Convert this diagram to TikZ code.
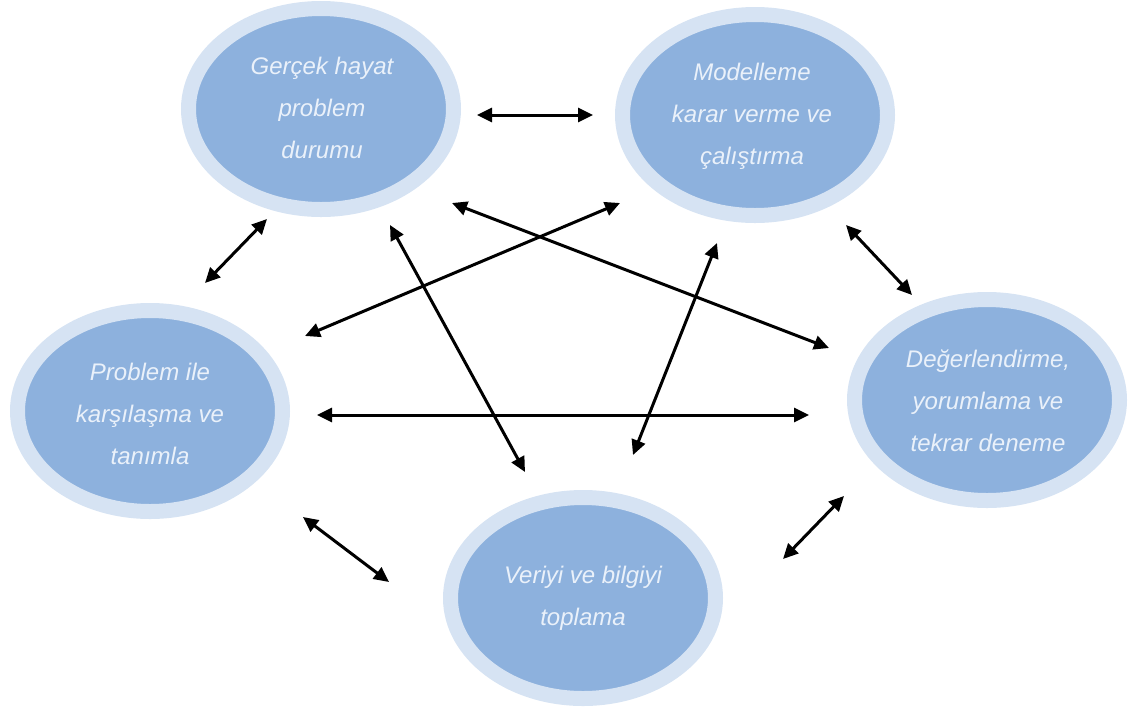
\documentclass[tikz,border=0pt]{standalone}
\usepackage{fontspec}
\setmainfont{Liberation Sans}
\usetikzlibrary{shapes.geometric,arrows.meta}
\definecolor{inner}{HTML}{8DB1DD}
\definecolor{ring}{HTML}{D6E3F3}
\definecolor{txt}{HTML}{EAF1FA}
\tikzset{
  blob/.style={ellipse, inner sep=0pt, fill=inner, draw=ring, line width=15pt, minimum width=265pt, minimum height=201pt},
  lbl/.style={align=center, text=txt, font=\fontsize{24}{42}\selectfont\itshape, inner sep=0pt},
  dbl/.style={line width=3pt, {Triangle[length=15pt,width=14pt]}-{Triangle[length=15pt,width=14pt]}}
}
\begin{document}
\begin{tikzpicture}[x=1pt,y=-1pt]
\useasboundingbox (0,0) rectangle (1129,713);
% ellipses
\node[blob] (G) at (321,109) {};
\node[blob] (M) at (755,115) {};
\node[blob] (P) at (150,411) {};
\node[blob] (D) at (987,400) {};
\node[blob] (V) at (583,598) {};
% texts
\node[lbl] (Gt) at (322,108) {Gerçek hayat\\problem\\durumu};
\node[lbl] (Mt) at (752,116) {Modelleme\\karar verme ve\\çalıştırma};
\node[lbl] (Pt) at (150,414) {Problem ile\\karşılaşma ve\\tanımla};
\node[lbl] (Dt) at (988,401) {Değerlendirme,\\yorumlama ve\\tekrar deneme};
\node[lbl] (Vt) at (583,598) {Veriyi ve bilgiyi\\toplama};
% arrow end points
\coordinate (a1s) at (477,115); \coordinate (a1e) at (593,115);
\coordinate (a2s) at (267,219); \coordinate (a2e) at (205,283);
\coordinate (a3s) at (846,225); \coordinate (a3e) at (912,295);
\coordinate (a4s) at (620,203); \coordinate (a4e) at (305,336);
\coordinate (a5s) at (452,203); \coordinate (a5e) at (829,348);
\coordinate (a6s) at (317,415); \coordinate (a6e) at (809,415);
\coordinate (a7s) at (390,225); \coordinate (a7e) at (525,472);
\coordinate (a8s) at (717,243); \coordinate (a8e) at (633,455);
\coordinate (a9s) at (303,517); \coordinate (a9e) at (389,582);
\coordinate (a10s) at (844,496); \coordinate (a10e) at (783,559);
\foreach \i in {1,...,10} { \draw[dbl] (a\i s) -- (a\i e); }
\end{tikzpicture}
\end{document}
